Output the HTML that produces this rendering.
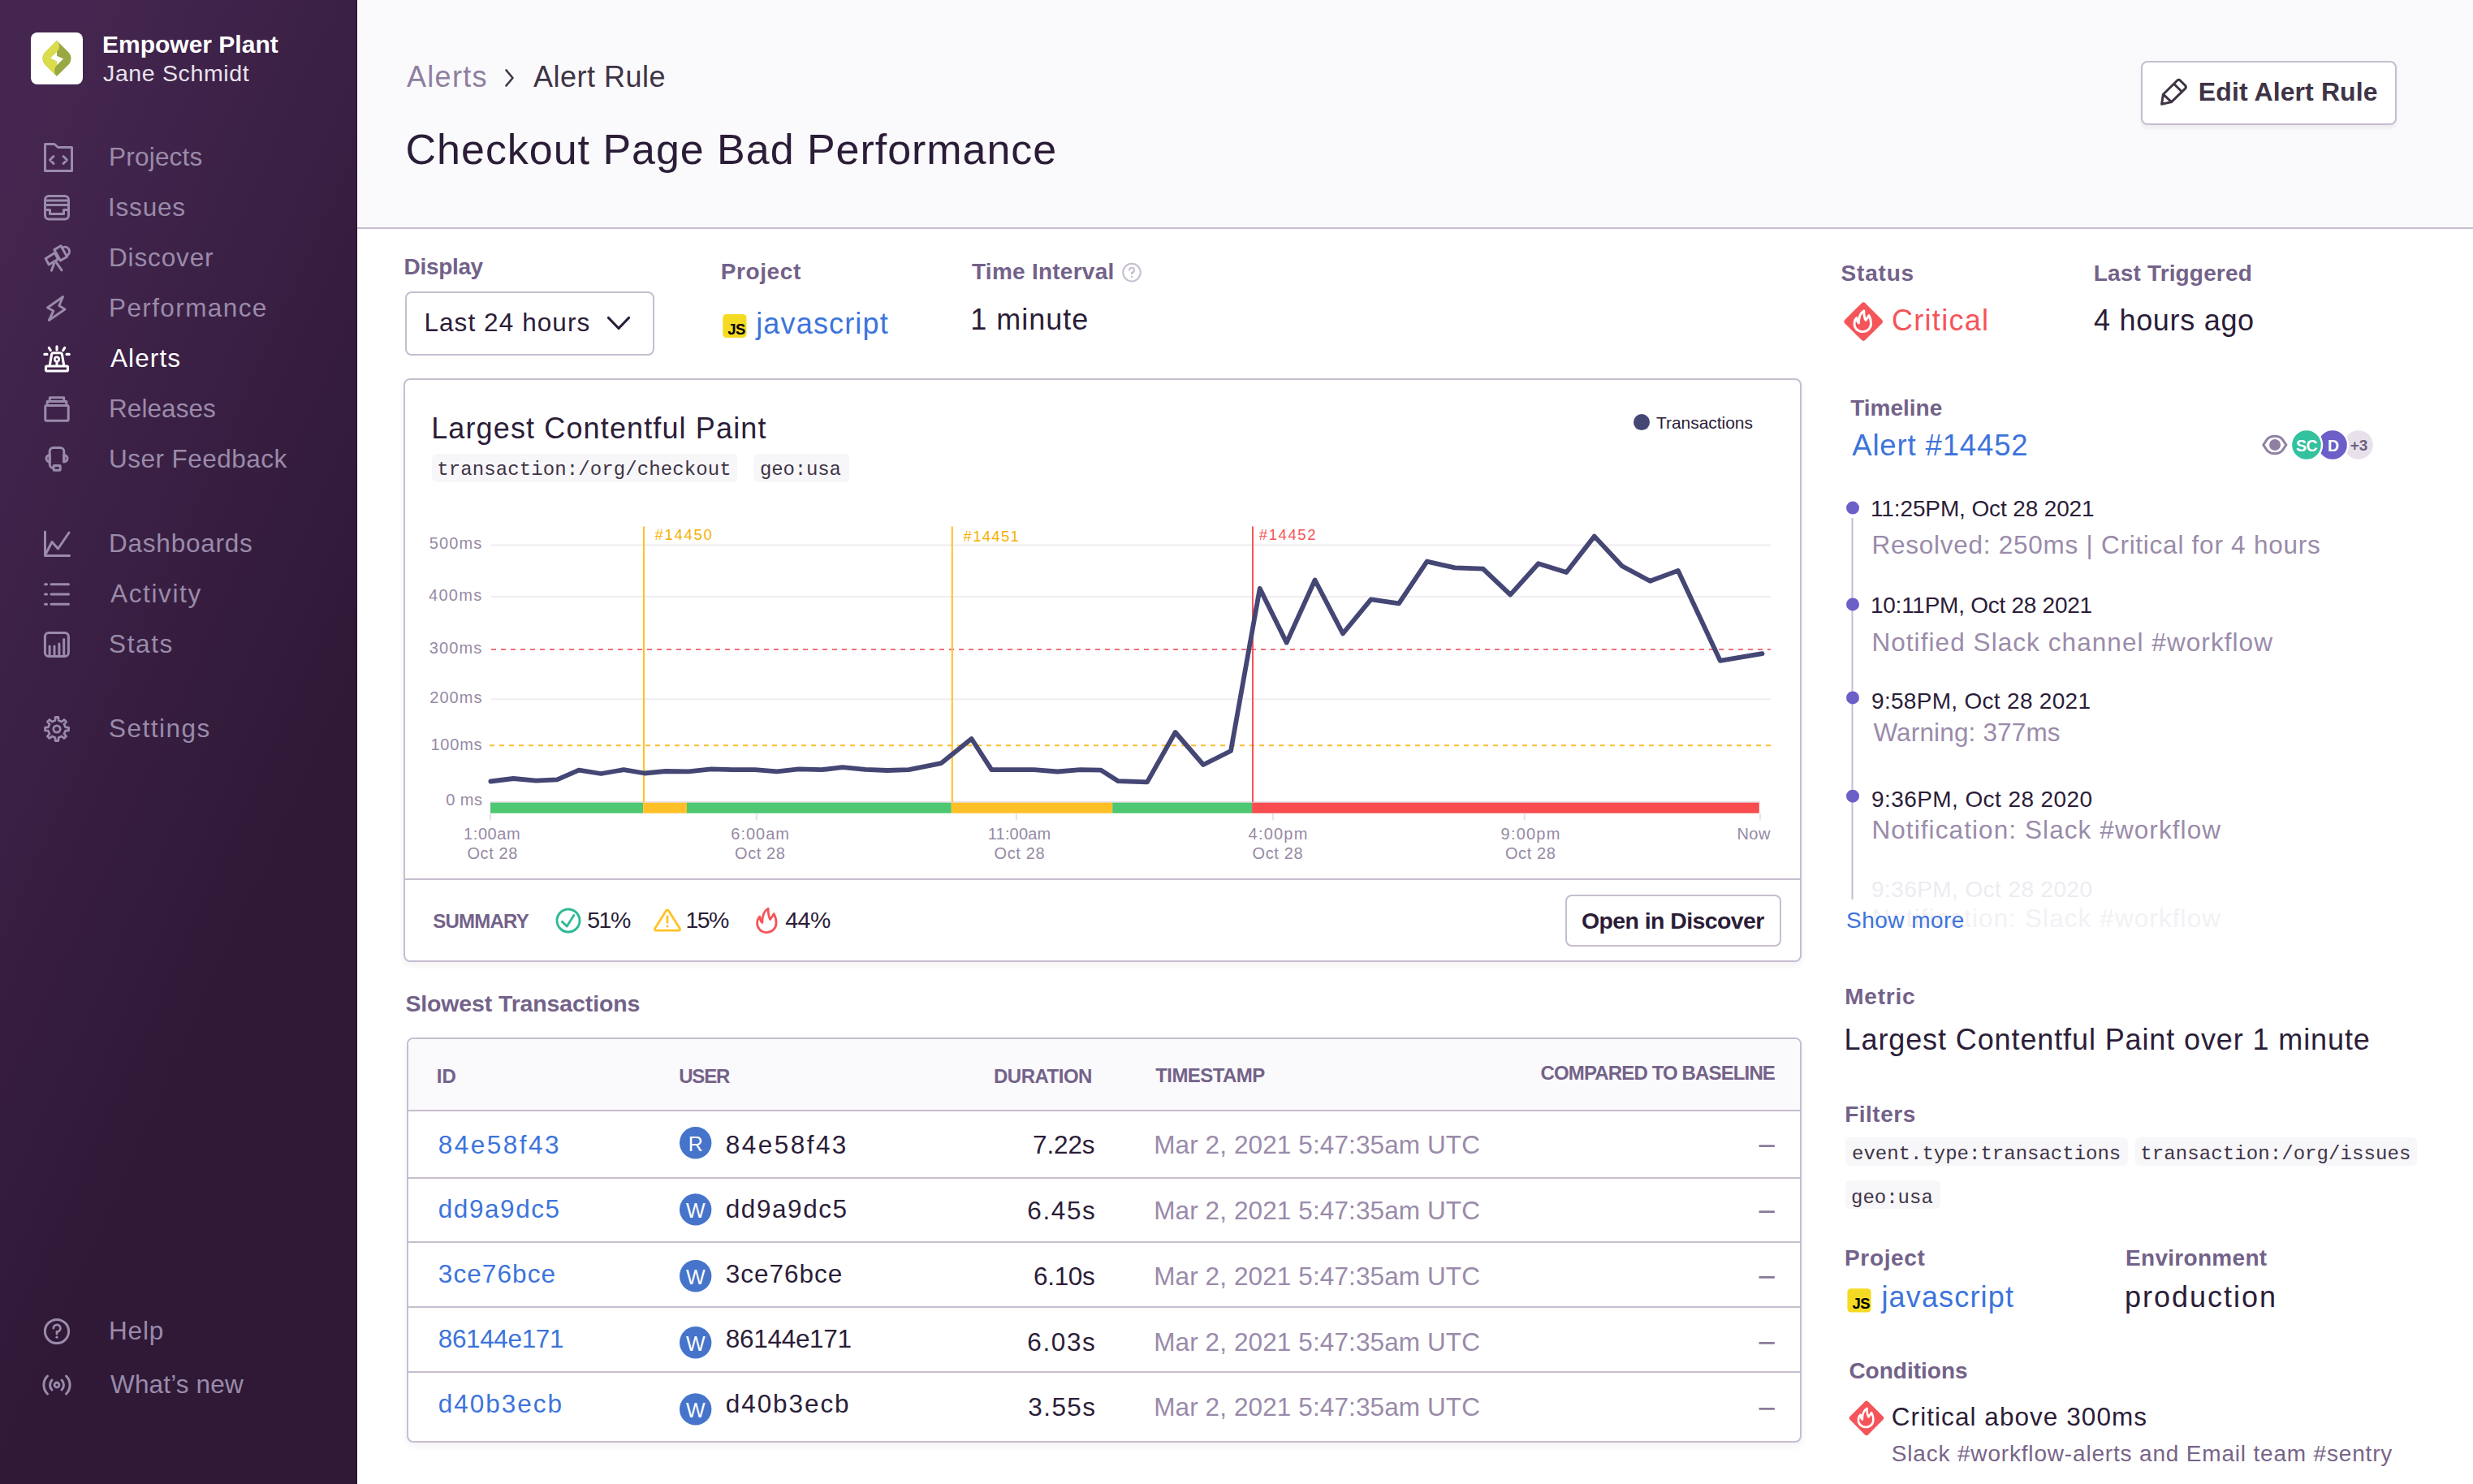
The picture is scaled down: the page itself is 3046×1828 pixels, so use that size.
<!DOCTYPE html>
<html><head><meta charset="utf-8"><title>Alert Rule</title>
<style>
html,body{margin:0;padding:0;background:#fff;}
body{width:3046px;height:1828px;position:relative;overflow:hidden;font-family:'Liberation Sans', sans-serif;}
.t{position:absolute;white-space:nowrap;line-height:1;}
@media (max-width:2000px){html{zoom:0.5;}}
</style></head><body>
<div style="position:absolute;left:0;top:0;width:440px;height:1828px;background:linear-gradient(294.17deg,#2f1937 35.57%,#452650 92.42%,#452650 92.42%)"></div>
<div style="position:absolute;left:439px;top:0;width:1px;height:1828px;background:#260E31"></div>
<div style="position:absolute;left:441px;top:0;width:2605px;height:280px;background:#FAF9FB"></div>
<div style="position:absolute;left:440px;top:280px;width:2606px;height:2px;background:#C6BECF"></div>
<div style="position:absolute;left:2637px;top:75px;width:315px;height:78.5px;box-sizing:border-box;border:2px solid #C6BECF;border-radius:8px;background:#fff;box-shadow:0 4px 4px rgba(43,29,56,0.06)"></div>
<div style="position:absolute;left:498.5px;top:358.5px;width:307px;height:79px;box-sizing:border-box;border:2px solid #C6BECF;border-radius:8px;background:#fff"></div>
<div style="position:absolute;left:497px;top:466px;width:1722px;height:719px;box-sizing:border-box;border:2px solid #C6BECF;border-radius:8px;background:#fff;box-shadow:0 4px 8px rgba(43,29,56,0.06)"></div>
<div style="position:absolute;left:499px;top:1082px;width:1718px;height:2px;background:#C6BECF"></div>
<div style="position:absolute;left:532px;top:558.5px;width:375.6px;height:35.4px;border-radius:6px;background:#F7F6F9"></div>
<div style="position:absolute;left:927.9px;top:558.5px;width:117.9px;height:35.4px;border-radius:6px;background:#F7F6F9"></div>
<div style="position:absolute;left:1928.3px;top:1102.3px;width:265.3px;height:63.6px;box-sizing:border-box;border:2px solid #C6BECF;border-radius:8px;background:#fff"></div>
<div style="position:absolute;left:500.5px;top:1277.5px;width:1718.5px;height:499px;box-sizing:border-box;border:2px solid #C6BECF;border-radius:8px;background:#fff;overflow:hidden;box-shadow:0 4px 8px rgba(43,29,56,0.06)"><div style="position:absolute;left:0;top:0;right:0;height:89px;background:#FAF9FB"></div></div>
<div style="position:absolute;left:502px;top:1367.2px;width:1715px;height:2px;background:#C6BECF"></div>
<div style="position:absolute;left:502px;top:1449.5px;width:1715px;height:2px;background:#C6BECF"></div>
<div style="position:absolute;left:502px;top:1529.3px;width:1715px;height:2px;background:#C6BECF"></div>
<div style="position:absolute;left:502px;top:1609.3px;width:1715px;height:2px;background:#C6BECF"></div>
<div style="position:absolute;left:502px;top:1689.3px;width:1715px;height:2px;background:#C6BECF"></div>
<div style="position:absolute;left:2273.3px;top:1400.5px;width:347.5px;height:35px;border-radius:6px;background:#F7F6F9"></div>
<div style="position:absolute;left:2629.5px;top:1400.5px;width:347px;height:35px;border-radius:6px;background:#F7F6F9"></div>
<div style="position:absolute;left:2273.3px;top:1453.7px;width:117px;height:35.3px;border-radius:6px;background:#F7F6F9"></div>
<svg width="3046" height="1828" viewBox="0 0 3046 1828" style="position:absolute;left:0;top:0"><path d="M55.5,177.5 H67 L71.5,181.5 H88.5 V210.5 H55.5 Z" fill="none" stroke="#9A8BAA" stroke-width="3" stroke-linecap="round" stroke-linejoin="round"/>
<path d="M66,192.5 L61.5,197 L66,201.5 M78,192.5 L82.5,197 L78,201.5" fill="none" stroke="#9A8BAA" stroke-width="3" stroke-linecap="round" stroke-linejoin="round"/>
<rect x="55.5" y="241.5" width="29" height="28.5" rx="4.5" fill="none" stroke="#9A8BAA" stroke-width="3" stroke-linecap="round" stroke-linejoin="round"/>
<path d="M56,247 H84 M56,252.5 H84 M56,258.5 H61.5 V263.5 H78.5 V258.5 H84" fill="none" stroke="#9A8BAA" stroke-width="3" stroke-linecap="round" stroke-linejoin="round"/>
<path d="M56.2,318.6 L67.4,311.6 L71.6,319.2 L60.2,326 Z" fill="none" stroke="#9A8BAA" stroke-width="3" stroke-linecap="round" stroke-linejoin="round"/>
<path d="M66.8,307.6 L75,302.8 L82.6,316.2 L74.4,321 Z" fill="none" stroke="#9A8BAA" stroke-width="3" stroke-linecap="round" stroke-linejoin="round"/>
<path d="M77.8,304.6 A5.6,5.6 0 0 1 83.6,314" fill="none" stroke="#9A8BAA" stroke-width="3" stroke-linecap="round" stroke-linejoin="round"/>
<path d="M66.6,324.8 L63.4,333.2 M69.4,323.4 L76,332.8" fill="none" stroke="#9A8BAA" stroke-width="3" stroke-linecap="round" stroke-linejoin="round"/>
<path d="M77.6,365.5 L58.5,379 L65.8,383 L60.3,394.5 L80,381 L72.8,376.5 Z" fill="none" stroke="#9A8BAA" stroke-width="2.9" stroke-linecap="round" stroke-linejoin="round"/>
<rect x="56.5" y="451" width="27" height="6" rx="1.2" fill="none" stroke="#FFFFFF" stroke-width="3.1" stroke-linecap="round" stroke-linejoin="round"/>
<path d="M61.3,450 L63.6,436.5 Q64,434.8 65.8,434.8 H74.2 Q76,434.8 76.4,436.5 L78.7,450" fill="none" stroke="#FFFFFF" stroke-width="3.1" stroke-linecap="round" stroke-linejoin="round"/>
<circle cx="70" cy="442.6" r="2.7" fill="none" stroke="#FFFFFF" stroke-width="2.6" stroke-linecap="round" stroke-linejoin="round"/>
<path d="M70,445.5 V450" fill="none" stroke="#FFFFFF" stroke-width="3.1" stroke-linecap="round" stroke-linejoin="round"/>
<path d="M70,426.8 V431 M60.3,428.4 L62.3,431.6 M79.7,428.4 L77.7,431.6 M54.8,436.4 H58 M82,436.4 H85.2" fill="none" stroke="#FFFFFF" stroke-width="3.1" stroke-linecap="round" stroke-linejoin="round"/>
<rect x="55.8" y="499.6" width="28.4" height="18.6" rx="1.5" fill="none" stroke="#9A8BAA" stroke-width="3" stroke-linecap="round" stroke-linejoin="round"/>
<path d="M58.2,499.5 V494.6 H81.8 V499.5 M61.3,494.6 V489.8 H78.7 V494.6" fill="none" stroke="#9A8BAA" stroke-width="3" stroke-linecap="round" stroke-linejoin="round"/>
<path d="M61.2,568.5 V556 A4.5,4.5 0 0 1 65.7,551.5 H74.3 A4.5,4.5 0 0 1 78.8,556 V568.5" fill="none" stroke="#9A8BAA" stroke-width="3" stroke-linecap="round" stroke-linejoin="round"/>
<path d="M61.2,560.5 A4.2,4.2 0 0 0 61.2,568.9 Z M78.8,560.5 A4.2,4.2 0 0 1 78.8,568.9 Z" fill="none" stroke="#9A8BAA" stroke-width="3" stroke-linecap="round" stroke-linejoin="round"/>
<path d="M61.2,568.5 V572 A4.5,4.5 0 0 0 65.7,576.5" fill="none" stroke="#9A8BAA" stroke-width="3" stroke-linecap="round" stroke-linejoin="round"/>
<rect x="66" y="573.6" width="8.2" height="5.6" rx="0.8" fill="none" stroke="#9A8BAA" stroke-width="3" stroke-linecap="round" stroke-linejoin="round"/>
<path d="M55.5,655 V684.5 H85.5" fill="none" stroke="#9A8BAA" stroke-width="3" stroke-linecap="round" stroke-linejoin="round"/>
<path d="M56.5,682 L64,667.5 L71.5,676 L85,656" fill="none" stroke="#9A8BAA" stroke-width="3" stroke-linecap="round" stroke-linejoin="round"/>
<path d="M55.5,719.8 H57.5 M63,719.8 H84.5 M55.5,732 H57.5 M63,732 H84.5 M55.5,744.2 H57.5 M63,744.2 H84.5" fill="none" stroke="#9A8BAA" stroke-width="3" stroke-linecap="round" stroke-linejoin="round"/>
<rect x="55.4" y="779.4" width="29" height="29" rx="4.5" fill="none" stroke="#9A8BAA" stroke-width="3" stroke-linecap="round" stroke-linejoin="round"/>
<path d="M61.1,807 V796 M67,807 V796 M72.9,807 V793 M78.7,807 V787.5" fill="none" stroke="#9A8BAA" stroke-width="3" stroke-linecap="round" stroke-linejoin="round"/>
<polygon points="67.84,887.42 68.17,883.52 71.83,883.52 72.16,887.42 75.96,888.99 78.95,886.46 81.54,889.05 79.01,892.04 80.58,895.84 84.48,896.17 84.48,899.83 80.58,900.16 79.01,903.96 81.54,906.95 78.95,909.54 75.96,907.01 72.16,908.58 71.83,912.48 68.17,912.48 67.84,908.58 64.04,907.01 61.05,909.54 58.46,906.95 60.99,903.96 59.42,900.16 55.52,899.83 55.52,896.17 59.42,895.84 60.99,892.04 58.46,889.05 61.05,886.46 64.04,888.99" fill="none" stroke="#9A8BAA" stroke-width="2.8" stroke-linecap="round" stroke-linejoin="round"/>
<circle cx="70" cy="898" r="4.2" fill="none" stroke="#9A8BAA" stroke-width="2.8" stroke-linecap="round" stroke-linejoin="round"/>
<circle cx="70" cy="1640" r="14.6" fill="none" stroke="#9A8BAA" stroke-width="3" stroke-linecap="round" stroke-linejoin="round"/>
<path d="M65.8,1636 A4.3,4.3 0 1 1 70,1640.5 V1643" fill="none" stroke="#9A8BAA" stroke-width="2.8" stroke-linecap="round" stroke-linejoin="round"/>
<circle cx="70" cy="1647.2" r="1.6" fill="#9A8BAA"/>
<circle cx="70" cy="1706" r="3" fill="none" stroke="#9A8BAA" stroke-width="2.8" stroke-linecap="round" stroke-linejoin="round"/>
<path d="M64,1700 A8.5,8.5 0 0 0 64,1712 M76,1700 A8.5,8.5 0 0 1 76,1712" fill="none" stroke="#9A8BAA" stroke-width="3" stroke-linecap="round" stroke-linejoin="round"/>
<path d="M58.5,1695 A15.5,15.5 0 0 0 58.5,1717 M81.5,1695 A15.5,15.5 0 0 1 81.5,1717" fill="none" stroke="#9A8BAA" stroke-width="3" stroke-linecap="round" stroke-linejoin="round"/>
<rect x="38" y="40" width="64" height="64" rx="8" fill="#FFFFFF"/>
<path d="M70,50 L84,64 C88.6,68.6 88.6,75.4 84,80 L70,94 L56,80 C51.4,75.4 51.4,68.6 56,64 Z" fill="#9AA843"/>
<path d="M70,50 L56,64 C51.4,68.6 51.4,75.4 56,80 L70,94 C66.2,90 66.2,84 70,80.2 L70,75.4 L61.9,71.7 L70,63.7 C74,60 74,54 70,50 Z" fill="#DBDC4B"/>
<path d="M70,63.7 L61.9,71.7 L70,75.4 L70,80.2 L78,72.4 L70,68.7 Z" fill="#FFFFFF"/>
<path d="M2664.4,116.2 L2681.6,99.2 Q2683.5,97.4 2685.4,99.2 L2691.5,105.3 Q2693.3,107.2 2691.5,109.1 L2674.6,125.6 Z M2664.4,116.2 L2662.6,128.2 L2674.6,125.6 M2677.6,103.3 L2687.6,113.2" fill="none" stroke="#3E3446" stroke-width="3" stroke-linejoin="round" stroke-linecap="round"/>
<path d="M623.5,86.5 L631.5,96 L623.5,105.5" fill="none" stroke="#3E3446" stroke-width="2.6" stroke-linecap="round" stroke-linejoin="round"/>
<path d="M749.5,391.5 L762,404.5 L774.5,391.5" fill="none" stroke="#2B1D38" stroke-width="3.2" stroke-linecap="round" stroke-linejoin="round"/>
<rect x="890.3" y="386.9" width="29.2" height="29.2" rx="4.5" fill="#F5DA24"/>
<rect x="2275.4" y="1587.3" width="29.2" height="29.2" rx="4.5" fill="#F5DA24"/>
<circle cx="1394" cy="335.6" r="10.8" fill="none" stroke="#C6BECF" stroke-width="2"/>
<path d="M1391,332.5 A3,3 0 1 1 1394,335.8 V337.5" fill="none" stroke="#C6BECF" stroke-width="2" stroke-linecap="round"/>
<circle cx="1394" cy="341" r="1.2" fill="#C6BECF"/>
<rect x="2277.52" y="378.42" width="35.35" height="35.35" rx="3.25" fill="#F55459" transform="rotate(45 2295.20 396.10)"/><path d="M0,13.1 C-5.8,13.1 -10.3,9 -10.3,3.5 C-10.3,0 -9.3,-2.5 -7.5,-4 C-7.3,-1 -6.3,1.3 -4.9,2.5 C-4.9,-5.5 -2.3,-10.5 1.5,-12.7 C1.5,-7.5 2.2,-3.5 3.7,-1 C5.2,-3 6.7,-5 7.7,-7 C9.2,-4.5 10.2,-1 10.2,3 C10.2,9 5.7,13.1 0,13.1 Z" transform="translate(2294.30 395.50) scale(1.000)" fill="none" stroke="#FFFFFF" stroke-width="2.900" stroke-linejoin="round"/>
<rect x="2283.16" y="1730.96" width="31.68" height="31.68" rx="2.91" fill="#F55459" transform="rotate(45 2299.00 1746.80)"/><path d="M0,13.1 C-5.8,13.1 -10.3,9 -10.3,3.5 C-10.3,0 -9.3,-2.5 -7.5,-4 C-7.3,-1 -6.3,1.3 -4.9,2.5 C-4.9,-5.5 -2.3,-10.5 1.5,-12.7 C1.5,-7.5 2.2,-3.5 3.7,-1 C5.2,-3 6.7,-5 7.7,-7 C9.2,-4.5 10.2,-1 10.2,3 C10.2,9 5.7,13.1 0,13.1 Z" transform="translate(2298.19 1746.26) scale(0.896)" fill="none" stroke="#FFFFFF" stroke-width="2.900" stroke-linejoin="round"/>
<path d="M2787.8,548 L2792.5,541 Q2796,537.3 2801.8,537.3 Q2807.6,537.3 2811.1,541 L2815.8,548 L2811.1,555 Q2807.6,558.7 2801.8,558.7 Q2796,558.7 2792.5,555 Z" fill="none" stroke="#8F80A3" stroke-width="3"/>
<circle cx="2802" cy="548" r="7" fill="#8F80A3"/>
<circle cx="2905" cy="548" r="17.8" fill="#E7E1EC"/>
<circle cx="2873" cy="548" r="19" fill="#6C5FC7" stroke="#FFFFFF" stroke-width="2.4"/>
<circle cx="2841" cy="548" r="19" fill="#33C19E" stroke="#FFFFFF" stroke-width="2.4"/>
<path d="M2281.5,638 V1108" stroke="#C6BECF" stroke-width="2"/>
<circle cx="2282" cy="625.6" r="8" fill="#6C5FC7"/>
<circle cx="2282" cy="744.4" r="8" fill="#6C5FC7"/>
<circle cx="2282" cy="859.4" r="8" fill="#6C5FC7"/>
<circle cx="2282" cy="980.7" r="8" fill="#6C5FC7"/>
<path d="M605,671.5 H2181" stroke="#EFECF2" stroke-width="2"/>
<path d="M605,735.1 H2181" stroke="#EFECF2" stroke-width="2"/>
<path d="M605,861.2 H2181" stroke="#EFECF2" stroke-width="2"/>
<path d="M605,800.1 H2181" stroke="#F0717A" stroke-width="2" stroke-dasharray="6,6"/>
<path d="M603,918.2 H2181" stroke="#F9BE30" stroke-width="2" stroke-dasharray="6,6"/>
<path d="M604,988 H2168" stroke="#E7E1EC" stroke-width="2"/>
<rect x="604.0" y="988.7" width="188.2" height="13" fill="#4DC771"/>
<rect x="792.2" y="988.7" width="53.8" height="13" fill="#FFC027"/>
<rect x="846.0" y="988.7" width="325.8" height="13" fill="#4DC771"/>
<rect x="1171.8" y="988.7" width="198.4" height="13" fill="#FFC027"/>
<rect x="1370.2" y="988.7" width="171.9" height="13" fill="#4DC771"/>
<rect x="1542.1" y="988.7" width="624.7" height="13" fill="#F84C4E"/>
<path d="M604.0,1002 V1010.5" stroke="#E7E1EC" stroke-width="2"/>
<path d="M931.9,1002 V1010.5" stroke="#E7E1EC" stroke-width="2"/>
<path d="M1251.9,1002 V1010.5" stroke="#E7E1EC" stroke-width="2"/>
<path d="M1568.1,1002 V1010.5" stroke="#E7E1EC" stroke-width="2"/>
<path d="M1877.8,1002 V1010.5" stroke="#E7E1EC" stroke-width="2"/>
<path d="M2167.9,1002 V1010.5" stroke="#E7E1EC" stroke-width="2"/>
<path d="M793,648.5 V988" stroke="#FFC027" stroke-width="2"/>
<path d="M1172.8,648.5 V988" stroke="#FFC027" stroke-width="2"/>
<path d="M1543,648.5 V988" stroke="#F55459" stroke-width="2"/>
<polyline points="604.3,962.5 632.3,959.0 660.4,961.6 686.2,960.3 713.0,948.7 740.2,953.0 768.2,948.2 794.0,952.5 820.0,950.0 848.0,950.4 876.0,947.4 901.9,948.2 929.9,948.2 957.1,950.4 983.8,947.4 1011.9,948.2 1037.7,945.2 1065.8,947.8 1093.0,949.0 1119.4,948.1 1159.4,940.1 1196.6,910.0 1221.3,948.1 1273.5,948.1 1302.6,950.5 1330.5,948.1 1356.0,948.6 1377.3,962.2 1413.0,963.4 1447.6,902.0 1482.1,942.0 1516.0,925.0 1551.7,724.9 1584.7,791.6 1619.6,714.5 1654.0,780.5 1688.6,738.3 1723.0,743.4 1757.6,691.7 1792.1,699.4 1826.6,700.7 1860.3,732.6 1894.8,694.3 1929.3,705.0 1963.8,660.6 1997.9,697.3 2032.4,715.8 2066.9,702.9 2118.7,813.8 2170.5,805.1" fill="none" stroke="#444674" stroke-width="5.8" stroke-linejoin="round" stroke-linecap="round"/>
<circle cx="2022" cy="520.1" r="10" fill="#444674"/>
<circle cx="700" cy="1134" r="14" fill="none" stroke="#2FBA97" stroke-width="2.9"/>
<path d="M692.5,1135.4 L698.2,1141 L706.8,1127.4" fill="none" stroke="#2FBA97" stroke-width="2.9" stroke-linecap="round" stroke-linejoin="round"/>
<path d="M820.2,1122.3 Q822,1119.4 823.8,1122.3 L837.2,1143.6 Q838.6,1146.2 835.6,1146.2 H808.4 Q805.4,1146.2 806.8,1143.6 Z" fill="none" stroke="#FFC227" stroke-width="2.8" stroke-linejoin="round"/>
<path d="M822,1128.8 V1136.3" stroke="#FFC227" stroke-width="2.8" stroke-linecap="round"/>
<circle cx="822" cy="1141" r="1.6" fill="#FFC227"/>
<path d="M0,13.1 C-5.8,13.1 -10.3,9 -10.3,3.5 C-10.3,0 -9.3,-2.5 -7.5,-4 C-7.3,-1 -6.3,1.3 -4.9,2.5 C-4.9,-5.5 -2.3,-10.5 1.5,-12.7 C1.5,-7.5 2.2,-3.5 3.7,-1 C5.2,-3 6.7,-5 7.7,-7 C9.2,-4.5 10.2,-1 10.2,3 C10.2,9 5.7,13.1 0,13.1 Z" transform="translate(944.40 1133.60) scale(1.140)" fill="none" stroke="#F55459" stroke-width="2.456" stroke-linejoin="round"/>
<rect x="2166.4" y="1410.20" width="19.6" height="2.7" rx="1" fill="#8A7B9C"/>
<circle cx="856.7" cy="1407.7" r="19.7" fill="#4674CA"/>
<rect x="2166.4" y="1491.20" width="19.6" height="2.7" rx="1" fill="#8A7B9C"/>
<circle cx="856.7" cy="1489.9" r="19.7" fill="#4674CA"/>
<rect x="2166.4" y="1572.10" width="19.6" height="2.7" rx="1" fill="#8A7B9C"/>
<circle cx="856.7" cy="1571.7" r="19.7" fill="#4674CA"/>
<rect x="2166.4" y="1653.10" width="19.6" height="2.7" rx="1" fill="#8A7B9C"/>
<circle cx="856.7" cy="1653.7" r="19.7" fill="#4674CA"/>
<rect x="2166.4" y="1734.00" width="19.6" height="2.7" rx="1" fill="#8A7B9C"/>
<circle cx="856.7" cy="1735.9" r="19.7" fill="#4674CA"/></svg>
<div style="position:absolute;left:836.7px;top:1389.2px;width:40px;height:40px;line-height:40px;text-align:center;font-family:'Liberation Sans', sans-serif;font-size:25px;color:#fff">R</div>
<div style="position:absolute;left:836.7px;top:1471.4px;width:40px;height:40px;line-height:40px;text-align:center;font-family:'Liberation Sans', sans-serif;font-size:25px;color:#fff">W</div>
<div style="position:absolute;left:836.7px;top:1553.2px;width:40px;height:40px;line-height:40px;text-align:center;font-family:'Liberation Sans', sans-serif;font-size:25px;color:#fff">W</div>
<div style="position:absolute;left:836.7px;top:1635.2px;width:40px;height:40px;line-height:40px;text-align:center;font-family:'Liberation Sans', sans-serif;font-size:25px;color:#fff">W</div>
<div style="position:absolute;left:836.7px;top:1717.4px;width:40px;height:40px;line-height:40px;text-align:center;font-family:'Liberation Sans', sans-serif;font-size:25px;color:#fff">W</div>
<div style="position:absolute;left:2823px;top:531px;width:36px;height:36px;line-height:36px;text-align:center;font-family:'Liberation Sans', sans-serif;font-size:19.5px;font-weight:700;color:#fff;letter-spacing:-0.5px">SC</div>
<div style="position:absolute;left:2856px;top:531px;width:36px;height:36px;line-height:36px;text-align:center;font-family:'Liberation Sans', sans-serif;font-size:19.5px;font-weight:700;color:#fff">D</div>
<div style="position:absolute;left:2887.5px;top:531px;width:36px;height:36px;line-height:36px;text-align:center;font-family:'Liberation Sans', sans-serif;font-size:19px;font-weight:700;color:#6E5F7D">+3</div>
<div style="position:absolute;left:890.3px;top:396.9px;width:27.5px;text-align:right;font-family:'Liberation Sans', sans-serif;font-size:18.5px;font-weight:700;color:#000;line-height:18.5px;letter-spacing:-0.6px">JS</div>
<div style="position:absolute;left:2275.4px;top:1597.3px;width:27.5px;text-align:right;font-family:'Liberation Sans', sans-serif;font-size:18.5px;font-weight:700;color:#000;line-height:18.5px;letter-spacing:-0.6px">JS</div>
<div id="org" class="t " style="left:126.00px;top:40.20px;font-size:30.00px;color:#FFFFFF;font-weight:700;font-family:'Liberation Sans', sans-serif;letter-spacing:0.000px;">Empower Plant</div>
<div id="user" class="t " style="left:127.00px;top:76.17px;font-size:28.50px;color:#E8E2EE;font-weight:400;font-family:'Liberation Sans', sans-serif;letter-spacing:0.636px;">Jane Schmidt</div>
<div id="nav_projects" class="t " style="left:134.00px;top:178.13px;font-size:31.50px;color:#9A8BAA;font-weight:400;font-family:'Liberation Sans', sans-serif;letter-spacing:0.215px;">Projects</div>
<div id="nav_issues" class="t " style="left:133.00px;top:240.13px;font-size:31.50px;color:#9A8BAA;font-weight:400;font-family:'Liberation Sans', sans-serif;letter-spacing:0.800px;">Issues</div>
<div id="nav_discover" class="t " style="left:134.00px;top:302.13px;font-size:31.50px;color:#9A8BAA;font-weight:400;font-family:'Liberation Sans', sans-serif;letter-spacing:0.857px;">Discover</div>
<div id="nav_perf" class="t " style="left:134.00px;top:364.13px;font-size:31.50px;color:#9A8BAA;font-weight:400;font-family:'Liberation Sans', sans-serif;letter-spacing:1.400px;">Performance</div>
<div id="nav_alerts" class="t " style="left:136.00px;top:426.33px;font-size:31.50px;color:#FFFFFF;font-weight:400;font-family:'Liberation Sans', sans-serif;letter-spacing:1.100px;">Alerts</div>
<div id="nav_releases" class="t " style="left:134.00px;top:487.93px;font-size:31.50px;color:#9A8BAA;font-weight:400;font-family:'Liberation Sans', sans-serif;letter-spacing:0.068px;">Releases</div>
<div id="nav_feedback" class="t " style="left:134.00px;top:550.13px;font-size:31.50px;color:#9A8BAA;font-weight:400;font-family:'Liberation Sans', sans-serif;letter-spacing:0.462px;">User Feedback</div>
<div id="nav_dash" class="t " style="left:134.00px;top:654.13px;font-size:31.50px;color:#9A8BAA;font-weight:400;font-family:'Liberation Sans', sans-serif;letter-spacing:0.776px;">Dashboards</div>
<div id="nav_activity" class="t " style="left:136.00px;top:716.13px;font-size:31.50px;color:#9A8BAA;font-weight:400;font-family:'Liberation Sans', sans-serif;letter-spacing:1.642px;">Activity</div>
<div id="nav_stats" class="t " style="left:134.00px;top:777.93px;font-size:31.50px;color:#9A8BAA;font-weight:400;font-family:'Liberation Sans', sans-serif;letter-spacing:1.625px;">Stats</div>
<div id="nav_settings" class="t " style="left:134.00px;top:882.03px;font-size:31.50px;color:#9A8BAA;font-weight:400;font-family:'Liberation Sans', sans-serif;letter-spacing:1.504px;">Settings</div>
<div id="nav_help" class="t " style="left:134.00px;top:1623.93px;font-size:31.50px;color:#9A8BAA;font-weight:400;font-family:'Liberation Sans', sans-serif;letter-spacing:0.834px;">Help</div>
<div id="nav_new" class="t " style="left:136.00px;top:1689.93px;font-size:31.50px;color:#9A8BAA;font-weight:400;font-family:'Liberation Sans', sans-serif;letter-spacing:0.166px;">What’s new</div>
<div id="bc_alerts" class="t " style="left:501.00px;top:77.32px;font-size:36.00px;color:#8E7FA0;font-weight:400;font-family:'Liberation Sans', sans-serif;letter-spacing:1.300px;">Alerts</div>
<div id="bc_rule" class="t " style="left:657.00px;top:77.32px;font-size:36.00px;color:#3E3446;font-weight:400;font-family:'Liberation Sans', sans-serif;letter-spacing:0.501px;">Alert Rule</div>
<div id="title" class="t " style="left:499.60px;top:157.97px;font-size:52.00px;color:#2B1D38;font-weight:400;font-family:'Liberation Sans', sans-serif;letter-spacing:0.964px;">Checkout Page Bad Performance</div>
<div id="edit" class="t " style="left:2707.80px;top:97.41px;font-size:32.00px;color:#3E3446;font-weight:700;font-family:'Liberation Sans', sans-serif;letter-spacing:0.104px;">Edit Alert Rule</div>
<div id="lbl_display" class="t " style="left:497.60px;top:315.39px;font-size:28.00px;color:#736289;font-weight:700;font-family:'Liberation Sans', sans-serif;letter-spacing:-0.333px;">Display</div>
<div id="val_display" class="t " style="left:522.40px;top:382.13px;font-size:31.50px;color:#2B1D38;font-weight:400;font-family:'Liberation Sans', sans-serif;letter-spacing:1.086px;">Last 24 hours</div>
<div id="lbl_project" class="t " style="left:887.80px;top:321.29px;font-size:28.00px;color:#736289;font-weight:700;font-family:'Liberation Sans', sans-serif;letter-spacing:0.588px;">Project</div>
<div id="val_project" class="t " style="left:931.20px;top:381.02px;font-size:36.00px;color:#3D74DB;font-weight:400;font-family:'Liberation Sans', sans-serif;letter-spacing:1.162px;">javascript</div>
<div id="lbl_interval" class="t " style="left:1197.00px;top:321.29px;font-size:28.00px;color:#736289;font-weight:700;font-family:'Liberation Sans', sans-serif;letter-spacing:0.253px;">Time Interval</div>
<div id="val_interval" class="t " style="left:1195.20px;top:376.22px;font-size:36.00px;color:#2B1D38;font-weight:400;font-family:'Liberation Sans', sans-serif;letter-spacing:0.997px;">1 minute</div>
<div id="chart_title" class="t " style="left:531.20px;top:509.92px;font-size:36.00px;color:#2B1D38;font-weight:400;font-family:'Liberation Sans', sans-serif;letter-spacing:1.131px;">Largest Contentful Paint</div>
<div id="tag1" class="t " style="left:538.20px;top:566.81px;font-size:24.00px;color:#3E3446;font-weight:400;font-family:'Liberation Mono', monospace;letter-spacing:0.101px;">transaction:/org/checkout</div>
<div id="tag2" class="t " style="left:936.00px;top:566.81px;font-size:24.00px;color:#3E3446;font-weight:400;font-family:'Liberation Mono', monospace;letter-spacing:-0.166px;">geo:usa</div>
<div id="legend" class="t " style="left:2040.00px;top:510.22px;font-size:21.00px;color:#2B1D38;font-weight:400;font-family:'Liberation Sans', sans-serif;letter-spacing:-0.047px;">Transactions</div>
<div id="y500" class="t " style="right:2451.60px;top:659.47px;font-size:20.00px;color:#968AA5;font-weight:400;font-family:'Liberation Sans', sans-serif;letter-spacing:1.150px;">500ms</div>
<div id="y400" class="t " style="right:2451.60px;top:722.57px;font-size:20.00px;color:#968AA5;font-weight:400;font-family:'Liberation Sans', sans-serif;letter-spacing:1.275px;">400ms</div>
<div id="y300" class="t " style="right:2451.60px;top:787.57px;font-size:20.00px;color:#968AA5;font-weight:400;font-family:'Liberation Sans', sans-serif;letter-spacing:1.150px;">300ms</div>
<div id="y200" class="t " style="right:2451.60px;top:849.07px;font-size:20.00px;color:#968AA5;font-weight:400;font-family:'Liberation Sans', sans-serif;letter-spacing:1.025px;">200ms</div>
<div id="y100" class="t " style="right:2451.60px;top:906.87px;font-size:20.00px;color:#968AA5;font-weight:400;font-family:'Liberation Sans', sans-serif;letter-spacing:0.800px;">100ms</div>
<div id="y0" class="t " style="right:2451.60px;top:974.77px;font-size:20.00px;color:#968AA5;font-weight:400;font-family:'Liberation Sans', sans-serif;letter-spacing:0.468px;">0 ms</div>
<div id="m14450" class="t " style="left:806.60px;top:649.84px;font-size:18.50px;color:#F5B000;font-weight:400;font-family:'Liberation Sans', sans-serif;letter-spacing:1.700px;">#14450</div>
<div id="m14451" class="t " style="left:1186.60px;top:652.24px;font-size:18.50px;color:#F5B000;font-weight:400;font-family:'Liberation Sans', sans-serif;letter-spacing:1.300px;">#14451</div>
<div id="m14452" class="t " style="left:1550.80px;top:649.84px;font-size:18.50px;color:#F55459;font-weight:400;font-family:'Liberation Sans', sans-serif;letter-spacing:1.600px;">#14452</div>
<div id="x1a" class="t " style="left:571.00px;top:1017.07px;font-size:20.00px;color:#968AA5;font-weight:400;font-family:'Liberation Sans', sans-serif;letter-spacing:0.600px;">1:00am</div>
<div id="x1b" class="t " style="left:575.40px;top:1040.77px;font-size:20.00px;color:#968AA5;font-weight:400;font-family:'Liberation Sans', sans-serif;letter-spacing:0.600px;">Oct 28</div>
<div id="x6a" class="t " style="left:900.30px;top:1017.07px;font-size:20.00px;color:#968AA5;font-weight:400;font-family:'Liberation Sans', sans-serif;letter-spacing:1.000px;">6:00am</div>
<div id="x6b" class="t " style="left:905.00px;top:1040.77px;font-size:20.00px;color:#968AA5;font-weight:400;font-family:'Liberation Sans', sans-serif;letter-spacing:0.600px;">Oct 28</div>
<div id="x11a" class="t " style="left:1216.80px;top:1017.07px;font-size:20.00px;color:#968AA5;font-weight:400;font-family:'Liberation Sans', sans-serif;letter-spacing:0.167px;">11:00am</div>
<div id="x11b" class="t " style="left:1224.60px;top:1040.77px;font-size:20.00px;color:#968AA5;font-weight:400;font-family:'Liberation Sans', sans-serif;letter-spacing:0.600px;">Oct 28</div>
<div id="x16a" class="t " style="left:1537.60px;top:1017.07px;font-size:20.00px;color:#968AA5;font-weight:400;font-family:'Liberation Sans', sans-serif;letter-spacing:1.200px;">4:00pm</div>
<div id="x16b" class="t " style="left:1542.60px;top:1040.77px;font-size:20.00px;color:#968AA5;font-weight:400;font-family:'Liberation Sans', sans-serif;letter-spacing:0.600px;">Oct 28</div>
<div id="x21a" class="t " style="left:1848.60px;top:1017.07px;font-size:20.00px;color:#968AA5;font-weight:400;font-family:'Liberation Sans', sans-serif;letter-spacing:1.200px;">9:00pm</div>
<div id="x21b" class="t " style="left:1853.90px;top:1040.77px;font-size:20.00px;color:#968AA5;font-weight:400;font-family:'Liberation Sans', sans-serif;letter-spacing:0.600px;">Oct 28</div>
<div id="xnow" class="t " style="left:2139.40px;top:1017.07px;font-size:20.00px;color:#968AA5;font-weight:400;font-family:'Liberation Sans', sans-serif;letter-spacing:0.500px;">Now</div>
<div id="summary" class="t " style="left:533.20px;top:1123.28px;font-size:24.00px;color:#736289;font-weight:700;font-family:'Liberation Sans', sans-serif;letter-spacing:-0.750px;">SUMMARY</div>
<div id="s51" class="t " style="left:723.20px;top:1119.47px;font-size:28.50px;color:#2B1D38;font-weight:400;font-family:'Liberation Sans', sans-serif;letter-spacing:-1.500px;">51%</div>
<div id="s15" class="t " style="left:844.40px;top:1119.47px;font-size:28.50px;color:#2B1D38;font-weight:400;font-family:'Liberation Sans', sans-serif;letter-spacing:-1.500px;">15%</div>
<div id="s44" class="t " style="left:967.20px;top:1119.47px;font-size:28.50px;color:#2B1D38;font-weight:400;font-family:'Liberation Sans', sans-serif;letter-spacing:-0.500px;">44%</div>
<div id="discover" class="t " style="left:1948.00px;top:1120.27px;font-size:28.50px;color:#2B1D38;font-weight:700;font-family:'Liberation Sans', sans-serif;letter-spacing:-0.602px;">Open in Discover</div>
<div id="slowest" class="t " style="left:499.40px;top:1222.07px;font-size:28.50px;color:#736289;font-weight:700;font-family:'Liberation Sans', sans-serif;letter-spacing:-0.131px;">Slowest Transactions</div>
<div id="th_id" class="t " style="left:537.80px;top:1313.58px;font-size:24.00px;color:#736289;font-weight:700;font-family:'Liberation Sans', sans-serif;letter-spacing:0.000px;">ID</div>
<div id="th_user" class="t " style="left:836.20px;top:1313.58px;font-size:24.00px;color:#736289;font-weight:700;font-family:'Liberation Sans', sans-serif;letter-spacing:-1.167px;">USER</div>
<div id="th_dur" class="t " style="left:1224.00px;top:1313.58px;font-size:24.00px;color:#736289;font-weight:700;font-family:'Liberation Sans', sans-serif;letter-spacing:-0.499px;">DURATION</div>
<div id="th_ts" class="t " style="left:1423.20px;top:1313.38px;font-size:24.00px;color:#736289;font-weight:700;font-family:'Liberation Sans', sans-serif;letter-spacing:-0.570px;">TIMESTAMP</div>
<div id="th_cmp" class="t " style="left:1897.60px;top:1310.48px;font-size:24.00px;color:#736289;font-weight:700;font-family:'Liberation Sans', sans-serif;letter-spacing:-0.870px;">COMPARED TO BASELINE</div>
<div id="r0id" class="t " style="left:539.80px;top:1394.53px;font-size:31.50px;color:#3D74DB;font-weight:400;font-family:'Liberation Sans', sans-serif;letter-spacing:2.488px;">84e58f43</div>
<div id="r0user" class="t " style="left:893.80px;top:1394.53px;font-size:31.50px;color:#2B1D38;font-weight:400;font-family:'Liberation Sans', sans-serif;letter-spacing:2.458px;">84e58f43</div>
<div id="r0dur" class="t " style="right:1697.60px;top:1394.63px;font-size:31.50px;color:#2B1D38;font-weight:400;font-family:'Liberation Sans', sans-serif;letter-spacing:-0.150px;">7.22s</div>
<div id="r0ts" class="t " style="left:1421.20px;top:1394.63px;font-size:31.50px;color:#9A8BAA;font-weight:400;font-family:'Liberation Sans', sans-serif;letter-spacing:0.105px;">Mar 2, 2021 5:47:35am UTC</div>
<div id="r1id" class="t " style="left:539.80px;top:1474.13px;font-size:31.50px;color:#3D74DB;font-weight:400;font-family:'Liberation Sans', sans-serif;letter-spacing:1.548px;">dd9a9dc5</div>
<div id="r1user" class="t " style="left:893.80px;top:1474.13px;font-size:31.50px;color:#2B1D38;font-weight:400;font-family:'Liberation Sans', sans-serif;letter-spacing:1.548px;">dd9a9dc5</div>
<div id="r1dur" class="t " style="right:1695.60px;top:1475.63px;font-size:31.50px;color:#2B1D38;font-weight:400;font-family:'Liberation Sans', sans-serif;letter-spacing:1.600px;">6.45s</div>
<div id="r1ts" class="t " style="left:1421.20px;top:1475.63px;font-size:31.50px;color:#9A8BAA;font-weight:400;font-family:'Liberation Sans', sans-serif;letter-spacing:0.105px;">Mar 2, 2021 5:47:35am UTC</div>
<div id="r2id" class="t " style="left:539.80px;top:1553.93px;font-size:31.50px;color:#3D74DB;font-weight:400;font-family:'Liberation Sans', sans-serif;letter-spacing:1.089px;">3ce76bce</div>
<div id="r2user" class="t " style="left:893.80px;top:1553.93px;font-size:31.50px;color:#2B1D38;font-weight:400;font-family:'Liberation Sans', sans-serif;letter-spacing:0.976px;">3ce76bce</div>
<div id="r2dur" class="t " style="right:1697.60px;top:1556.53px;font-size:31.50px;color:#2B1D38;font-weight:400;font-family:'Liberation Sans', sans-serif;letter-spacing:-0.350px;">6.10s</div>
<div id="r2ts" class="t " style="left:1421.20px;top:1556.53px;font-size:31.50px;color:#9A8BAA;font-weight:400;font-family:'Liberation Sans', sans-serif;letter-spacing:0.105px;">Mar 2, 2021 5:47:35am UTC</div>
<div id="r3id" class="t " style="left:539.80px;top:1633.93px;font-size:31.50px;color:#3D74DB;font-weight:400;font-family:'Liberation Sans', sans-serif;letter-spacing:-0.378px;">86144e171</div>
<div id="r3user" class="t " style="left:893.80px;top:1633.93px;font-size:31.50px;color:#2B1D38;font-weight:400;font-family:'Liberation Sans', sans-serif;letter-spacing:-0.300px;">86144e171</div>
<div id="r3dur" class="t " style="right:1695.60px;top:1637.53px;font-size:31.50px;color:#2B1D38;font-weight:400;font-family:'Liberation Sans', sans-serif;letter-spacing:1.600px;">6.03s</div>
<div id="r3ts" class="t " style="left:1421.20px;top:1637.53px;font-size:31.50px;color:#9A8BAA;font-weight:400;font-family:'Liberation Sans', sans-serif;letter-spacing:0.105px;">Mar 2, 2021 5:47:35am UTC</div>
<div id="r4id" class="t " style="left:539.80px;top:1714.33px;font-size:31.50px;color:#3D74DB;font-weight:400;font-family:'Liberation Sans', sans-serif;letter-spacing:1.970px;">d40b3ecb</div>
<div id="r4user" class="t " style="left:893.80px;top:1714.33px;font-size:31.50px;color:#2B1D38;font-weight:400;font-family:'Liberation Sans', sans-serif;letter-spacing:1.916px;">d40b3ecb</div>
<div id="r4dur" class="t " style="right:1695.60px;top:1718.43px;font-size:31.50px;color:#2B1D38;font-weight:400;font-family:'Liberation Sans', sans-serif;letter-spacing:1.400px;">3.55s</div>
<div id="r4ts" class="t " style="left:1421.20px;top:1718.43px;font-size:31.50px;color:#9A8BAA;font-weight:400;font-family:'Liberation Sans', sans-serif;letter-spacing:0.105px;">Mar 2, 2021 5:47:35am UTC</div>
<div id="lbl_status" class="t " style="left:2267.60px;top:322.99px;font-size:28.00px;color:#736289;font-weight:700;font-family:'Liberation Sans', sans-serif;letter-spacing:0.800px;">Status</div>
<div id="lbl_last" class="t " style="left:2578.80px;top:322.99px;font-size:28.00px;color:#736289;font-weight:700;font-family:'Liberation Sans', sans-serif;letter-spacing:0.154px;">Last Triggered</div>
<div id="val_status" class="t " style="left:2330.00px;top:377.12px;font-size:36.00px;color:#F55459;font-weight:400;font-family:'Liberation Sans', sans-serif;letter-spacing:1.286px;">Critical</div>
<div id="val_last" class="t " style="left:2579.00px;top:377.12px;font-size:36.00px;color:#2B1D38;font-weight:400;font-family:'Liberation Sans', sans-serif;letter-spacing:0.700px;">4 hours ago</div>
<div id="lbl_timeline" class="t " style="left:2279.20px;top:489.39px;font-size:28.00px;color:#736289;font-weight:700;font-family:'Liberation Sans', sans-serif;letter-spacing:-0.003px;">Timeline</div>
<div id="alert_no" class="t " style="left:2281.20px;top:531.20px;font-size:36.50px;color:#3D74DB;font-weight:400;font-family:'Liberation Sans', sans-serif;letter-spacing:0.862px;">Alert #14452</div>
<div id="tl1t" class="t " style="left:2304.00px;top:613.29px;font-size:28.00px;color:#2B1D38;font-weight:400;font-family:'Liberation Sans', sans-serif;letter-spacing:-0.130px;">11:25PM, Oct 28 2021</div>
<div id="tl1d" class="t " style="left:2305.40px;top:655.63px;font-size:31.50px;color:#9A8BAA;font-weight:400;font-family:'Liberation Sans', sans-serif;letter-spacing:0.747px;">Resolved: 250ms | Critical for 4 hours</div>
<div id="tl2t" class="t " style="left:2304.00px;top:731.59px;font-size:28.00px;color:#2B1D38;font-weight:400;font-family:'Liberation Sans', sans-serif;letter-spacing:-0.262px;">10:11PM, Oct 28 2021</div>
<div id="tl2d" class="t " style="left:2305.40px;top:775.73px;font-size:31.50px;color:#9A8BAA;font-weight:400;font-family:'Liberation Sans', sans-serif;letter-spacing:1.067px;">Notified Slack channel #workflow</div>
<div id="tl3t" class="t " style="left:2305.00px;top:849.89px;font-size:28.00px;color:#2B1D38;font-weight:400;font-family:'Liberation Sans', sans-serif;letter-spacing:0.303px;">9:58PM, Oct 28 2021</div>
<div id="tl3d" class="t " style="left:2307.40px;top:887.13px;font-size:31.50px;color:#9A8BAA;font-weight:400;font-family:'Liberation Sans', sans-serif;letter-spacing:0.152px;">Warning: 377ms</div>
<div id="tl4t" class="t " style="left:2305.00px;top:971.09px;font-size:28.00px;color:#2B1D38;font-weight:400;font-family:'Liberation Sans', sans-serif;letter-spacing:0.420px;">9:36PM, Oct 28 2020</div>
<div id="tl4d" class="t " style="left:2305.40px;top:1007.33px;font-size:31.50px;color:#9A8BAA;font-weight:400;font-family:'Liberation Sans', sans-serif;letter-spacing:1.089px;">Notification: Slack #workflow</div>
<div id="tl5t" class="t nocal" style="left:2305.00px;top:1081.59px;font-size:28.00px;color:#EEEBF1;font-weight:400;font-family:'Liberation Sans', sans-serif;letter-spacing:0.420px;">9:36PM, Oct 28 2020</div>
<div id="tl5d" class="t nocal" style="left:2305.40px;top:1116.13px;font-size:31.50px;color:#F3F1F5;font-weight:400;font-family:'Liberation Sans', sans-serif;letter-spacing:1.089px;">Notification: Slack #workflow</div>
<div id="showmore" class="t " style="left:2274.00px;top:1119.59px;font-size:28.00px;color:#3D74DB;font-weight:400;font-family:'Liberation Sans', sans-serif;letter-spacing:0.475px;">Show more</div>
<div id="lbl_metric" class="t " style="left:2272.20px;top:1213.89px;font-size:28.00px;color:#736289;font-weight:700;font-family:'Liberation Sans', sans-serif;letter-spacing:0.800px;">Metric</div>
<div id="val_metric" class="t " style="left:2271.60px;top:1263.02px;font-size:36.00px;color:#2B1D38;font-weight:400;font-family:'Liberation Sans', sans-serif;letter-spacing:0.889px;">Largest Contentful Paint over 1 minute</div>
<div id="lbl_filters" class="t " style="left:2272.20px;top:1359.29px;font-size:28.00px;color:#736289;font-weight:700;font-family:'Liberation Sans', sans-serif;letter-spacing:0.499px;">Filters</div>
<div id="f1" class="t " style="left:2281.00px;top:1410.41px;font-size:24.00px;color:#3E3446;font-weight:400;font-family:'Liberation Mono', monospace;letter-spacing:-0.000px;">event.type:transactions</div>
<div id="f2" class="t " style="left:2636.20px;top:1410.41px;font-size:24.00px;color:#3E3446;font-weight:400;font-family:'Liberation Mono', monospace;letter-spacing:0.093px;">transaction:/org/issues</div>
<div id="f3" class="t " style="left:2280.00px;top:1463.61px;font-size:24.00px;color:#3E3446;font-weight:400;font-family:'Liberation Mono', monospace;letter-spacing:0.001px;">geo:usa</div>
<div id="lbl_proj2" class="t " style="left:2272.00px;top:1536.09px;font-size:28.00px;color:#736289;font-weight:700;font-family:'Liberation Sans', sans-serif;letter-spacing:0.665px;">Project</div>
<div id="lbl_env" class="t " style="left:2618.00px;top:1536.09px;font-size:28.00px;color:#736289;font-weight:700;font-family:'Liberation Sans', sans-serif;letter-spacing:0.300px;">Environment</div>
<div id="val_proj2" class="t " style="left:2317.40px;top:1579.52px;font-size:36.00px;color:#3D74DB;font-weight:400;font-family:'Liberation Sans', sans-serif;letter-spacing:1.168px;">javascript</div>
<div id="val_env" class="t " style="left:2617.00px;top:1579.52px;font-size:36.00px;color:#2B1D38;font-weight:400;font-family:'Liberation Sans', sans-serif;letter-spacing:1.997px;">production</div>
<div id="lbl_cond" class="t " style="left:2277.40px;top:1674.99px;font-size:28.00px;color:#736289;font-weight:700;font-family:'Liberation Sans', sans-serif;letter-spacing:-0.001px;">Conditions</div>
<div id="cond1" class="t " style="left:2329.80px;top:1729.63px;font-size:31.50px;color:#2B1D38;font-weight:400;font-family:'Liberation Sans', sans-serif;letter-spacing:1.057px;">Critical above 300ms</div>
<div id="cond2" class="t " style="left:2329.80px;top:1776.59px;font-size:28.00px;color:#776589;font-weight:400;font-family:'Liberation Sans', sans-serif;letter-spacing:0.821px;">Slack #workflow-alerts and Email team #sentry</div>
</body></html>
